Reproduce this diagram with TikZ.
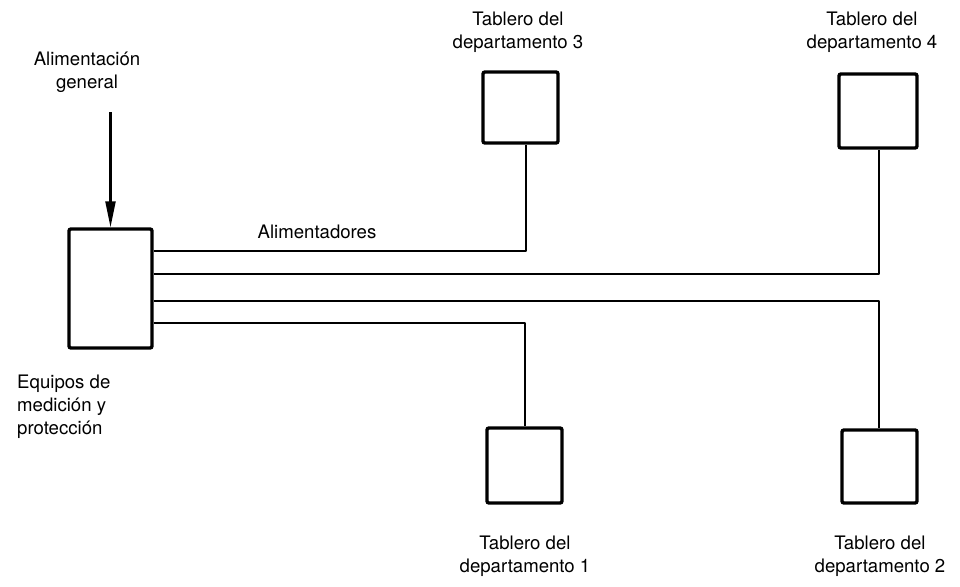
\documentclass[tikz,border=0pt]{standalone}
\usepackage{fontspec}
\setmainfont{TeX Gyre Heros}
\usetikzlibrary{arrows.meta}
\begin{document}
\begin{tikzpicture}[x=1pt,y=-1pt,
  panel/.style={draw, line width=3.4pt, rounded corners=2pt, inner sep=0pt},
  feeder/.style={line width=2.8pt, line join=round},
  lbl/.style={font=\fontsize{18.6pt}{23pt}\selectfont, align=center, inner sep=0pt},
  lbll/.style={font=\fontsize{18.6pt}{23pt}\selectfont, align=left, inner sep=0pt}]
\useasboundingbox (0,0) rectangle (960,586);
% main equipment box
\node[panel, minimum width=83pt, minimum height=119pt] (main) at (110.5,288.5) {};
% department panels
\node[panel, minimum width=75pt, minimum height=71pt] (b3) at (520.5,107.5) {};
\node[panel, minimum width=78pt, minimum height=74pt] (b4) at (878,111) {};
\node[panel, minimum width=75pt, minimum height=75pt] (b1) at (524.5,465.5) {};
\node[panel, minimum width=75pt, minimum height=73pt] (b2) at (879.5,466.5) {};
% labels
\node[lbl] (tin) at (87,72) {Alimentación\\general};
\node[lbll, anchor=west] (teq) at (17,407) {Equipos de\\medición y\\protección};
\node[lbl] (tal) at (317,232) {Alimentadores};
\node[lbl] (t3) at (518,32) {Tablero del\\departamento 3};
\node[lbl] (t4) at (872,32) {Tablero del\\departamento 4};
\node[lbl] (t1) at (525,556) {Tablero del\\departamento 1};
\node[lbl] (t2) at (880,556) {Tablero del\\departamento 2};
% incoming supply arrow
\coordinate (src) at (110.5,112);
\draw[line width=2.2pt, -{Triangle[length=26pt,width=10pt]}] (src) -- (main.north);
% feeder corners
\coordinate (c3) at (526,251);
\coordinate (c4) at (879,274);
\coordinate (c2) at (879,301);
\coordinate (c1) at (525,323);
\draw[feeder] (main.east |- c3) -- (c3) -- (c3 |- b3.south);
\draw[feeder] (main.east |- c4) -- (c4) -- (c4 |- b4.south);
\draw[feeder] (main.east |- c2) -- (c2) -- (c2 |- b2.north);
\draw[feeder] (main.east |- c1) -- (c1) -- (c1 |- b1.north);
\end{tikzpicture}
\end{document}
